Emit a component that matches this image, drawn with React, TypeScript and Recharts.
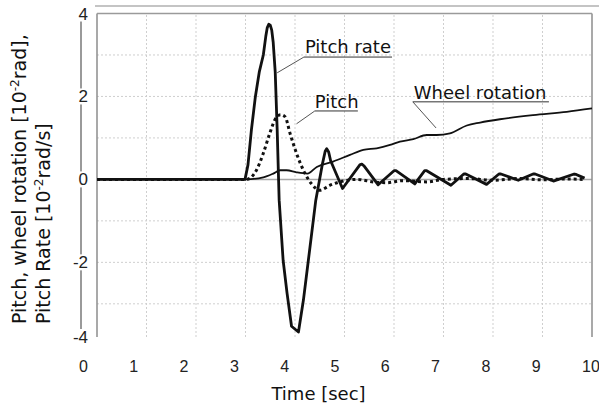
import React from 'react';
import { LineChart, Line, XAxis, YAxis, ReferenceLine, ReferenceDot, Label } from 'recharts';

// ---- data ----
const pitchRateTime = [0, 2.99, 3.05, 3.12, 3.2, 3.28, 3.36, 3.41, 3.44, 3.47, 3.5, 3.53, 3.56, 3.6, 3.64, 3.68, 3.76, 3.84, 3.93, 4.07, 4.17, 4.27, 4.42, 4.55, 4.61, 4.64, 4.68, 4.72, 4.96, 5.31, 5.35, 5.39, 5.68, 6.0, 6.04, 6.42, 6.62, 6.66, 7.15, 7.41, 7.45, 7.87, 8.12, 8.16, 8.51, 8.81, 8.85, 9.22, 9.64, 9.68, 9.85];
const pitchRateValue = [0, 0, 0.35, 1.2, 2.0, 2.6, 3.0, 3.45, 3.66, 3.74, 3.72, 3.6, 3.3, 2.6, 1.2, -0.5, -1.95, -2.75, -3.54, -3.68, -2.91, -1.95, -0.5, 0.35, 0.68, 0.74, 0.66, 0.45, -0.22, 0.35, 0.37, 0.33, -0.13, 0.21, 0.21, -0.11, 0.21, 0.21, -0.14, 0.13, 0.13, -0.12, 0.13, 0.13, -0.02, 0.13, 0.13, -0.04, 0.13, 0.12, 0.03];

const pitchTime = [0, 3.02, 3.22, 3.36, 3.49, 3.6, 3.71, 3.8, 3.9, 4.03, 4.17, 4.33, 4.5, 4.71, 4.91, 5.25, 5.58, 5.85, 6.19, 6.66, 7.0, 7.5, 8.0, 8.5, 9.0, 9.5, 9.82];
const pitchValue = [0, 0, 0.22, 0.63, 1.11, 1.45, 1.56, 1.51, 1.11, 0.63, 0.22, -0.1, -0.26, -0.14, -0.06, 0, -0.06, -0.08, -0.03, -0.06, 0, 0.02, -0.02, 0.02, -0.01, 0.01, 0];

const wheelTime = [0, 3.0, 3.36, 3.56, 3.7, 3.83, 4.03, 4.25, 4.44, 4.77, 5.11, 5.38, 5.65, 5.92, 6.12, 6.39, 6.66, 6.86, 7.13, 7.47, 7.74, 8.14, 8.81, 9.49, 10];
const wheelValue = [0, 0, 0.05, 0.14, 0.22, 0.22, 0.17, 0.14, 0.3, 0.43, 0.59, 0.71, 0.75, 0.83, 0.91, 0.97, 1.07, 1.07, 1.11, 1.3, 1.37, 1.45, 1.55, 1.63, 1.71];

const timeTicks = [0, 1, 2, 3, 4, 5, 6, 7, 8, 9, 10];
const xTickLabels = ['0', '1', '2', '3', '4', '5', '6', '7', '8', '9', '10'];
const yMajorValues = [4, 2, 0, -2, -3.8];
const yMajorLabels = ['4', '2', '0', '-2', '-4'];
const yMinorValues = [3, 1, -1, -3];
const yMinorLabels = ['0.03', '0.01', '-0.01', '-0.03'];
const gridTimes = [1, 2, 3, 4, 5, 6, 7, 8, 9];
const gridValues = [3, 2, 1, -1, -2, -3];

const annotationTexts = ['Pitch rate', 'Pitch', 'Wheel rotation'];
const annotationTextPos = [[4.2, 3.05], [4.4, 1.72], [6.4, 1.94]];
const annotationUnderline = [[4.18, 5.96, 2.95], [4.4, 5.27, 1.65], [6.38, 9.13, 1.87]];
const annotationLeaderEnd = [[3.64, 2.57], [4.03, 1.34], [6.85, 1.24]];

const toPoints = (ts: number[], vs: number[]) => ts.map((t, i) => ({ t, v: vs[i] }));
const pitchRateData = toPoints(pitchRateTime, pitchRateValue);
const pitchData = toPoints(pitchTime, pitchValue);
const wheelData = toPoints(wheelTime, wheelValue);

const SANS = 'DejaVu Sans, Verdana, sans-serif';
const ARIAL = 'Liberation Sans, Arial, sans-serif';
const MAIN = 'y2';
const MINOR = 'y1';

const MajorTick = (props: any) => {
  const { x, y, payload } = props;
  const label = yMajorLabels[yMajorValues.indexOf(payload.value)];
  const w = label.length * 9 + 4;
  return (
    <g>
      <rect x={x + 9 - w} y={y - 8} width={w} height={16} fill="#fff" />
      <text x={x + 7} y={y} dy={6} textAnchor="end" fontFamily={ARIAL} fontSize={17} fill="#222">{label}</text>
    </g>
  );
};

const MinorTick = (props: any) => {
  const { x, y, payload } = props;
  const label = yMinorLabels[yMinorValues.indexOf(payload.value)];
  return (
    <text x={x - 5} y={y} dy={2} textAnchor="end" fontFamily={ARIAL} fontSize={5} fill="#666">{label}</text>
  );
};

const XTick = (props: any) => {
  const { x, y, payload } = props;
  const label = xTickLabels[timeTicks.indexOf(payload.value)];
  return (
    <text x={x - 18 + 0.8 * payload.value} y={y + 35} textAnchor="start" fontFamily={ARIAL} fontSize={16} fill="#222">{label}</text>
  );
};

const YTitle = () => {
  const x1 = 26;
  const x2 = 50;
  const y0 = 324;
  return (
    <g fontFamily={SANS} fontSize={19} fill="#111">
      <text x={x1} y={y0} transform={`rotate(-90, ${x1}, ${y0})`} textAnchor="start">
        Pitch, wheel rotation [10<tspan dy={-7} fontSize={12}>-2</tspan><tspan dy={7}>rad],</tspan>
      </text>
      <text x={x2} y={y0} transform={`rotate(-90, ${x2}, ${y0})`} textAnchor="start">
        Pitch Rate [10<tspan dy={-7} fontSize={12}>-2</tspan><tspan dy={7}>rad/s]</tspan>
      </text>
    </g>
  );
};

const XTitle = (props: any) => {
  const vb = props.viewBox || { x: 97, y: 337, width: 495 };
  return (
    <text x={vb.x + vb.width / 2 - 26} y={vb.y + 63} textAnchor="middle" fontFamily={SANS} fontSize={18} fill="#111">Time [sec]</text>
  );
};

export default function App() {
  return (
    <div style={{ position: 'absolute', left: 0, top: 0, width: 599, height: 408, background: '#fff' }}>
      <div style={{ position: 'absolute', left: 95, top: 5, width: 504, height: 2, background: '#c4c4c4' }} />
      <LineChart width={599} height={408} margin={{ top: 13.5, right: 7, left: 0, bottom: 0 }}>
        <XAxis
          dataKey="t"
          type="number"
          domain={[0, 10]}
          ticks={timeTicks}
          interval={0}
          axisLine={false}
          tickLine={false}
          tickSize={0}
          tickMargin={0}
          height={71}
          tick={<XTick />}
          label={<Label content={<XTitle />} />}
        />
        <YAxis
          yAxisId={MINOR}
          type="number"
          domain={[-3.8, 4]}
          ticks={yMinorValues}
          interval={0}
          width={16}
          axisLine={false}
          tickLine={false}
          tickSize={0}
          tickMargin={0}
          tick={<MinorTick />}
        />
        <YAxis
          yAxisId={MAIN}
          type="number"
          domain={[-3.8, 4]}
          ticks={yMajorValues}
          interval={0}
          width={81}
          axisLine={{ stroke: '#9a9a9a', strokeWidth: 2 }}
          tickLine={false}
          tickSize={0}
          tickMargin={0}
          tick={<MajorTick />}
          label={<Label content={<YTitle />} />}
        />
        {gridTimes.map((t) => (
          <ReferenceLine key={'gx' + t} yAxisId={MAIN} x={t} stroke="#cfcfcf" strokeDasharray="2 2" strokeWidth={1} />
        ))}
        {gridValues.map((v) => (
          <ReferenceLine key={'gy' + v} yAxisId={MAIN} y={v} stroke="#cfcfcf" strokeDasharray="2 2" strokeWidth={1} />
        ))}
        <ReferenceLine yAxisId={MAIN} y={0} stroke="#a8a8a8" strokeWidth={1.5} />
        <ReferenceLine yAxisId={MAIN} x={0} stroke="#8c8c8c" strokeWidth={1.5} />
        <ReferenceLine yAxisId={MAIN} x={10} stroke="#8c8c8c" strokeWidth={1.5} />
        <ReferenceLine yAxisId={MAIN} y={4} stroke="#9a9a9a" strokeWidth={1.5} />

        <Line yAxisId={MAIN} data={wheelData} dataKey="v" type="monotone" stroke="#111" strokeWidth={1.8} dot={false} isAnimationActive={false} />
        <Line yAxisId={MAIN} data={pitchData} dataKey="v" type="monotone" stroke="#111" strokeWidth={3} strokeDasharray="3 3" dot={false} isAnimationActive={false} />
        <Line yAxisId={MAIN} data={pitchRateData} dataKey="v" type="linear" stroke="#111" strokeWidth={2.8} strokeLinejoin="round" dot={false} isAnimationActive={false} />

        {annotationTexts.map((txt, i) => (
          <ReferenceLine
            key={'ul' + i}
            yAxisId={MAIN}
            segment={[
              { x: annotationUnderline[i][0], y: annotationUnderline[i][2] },
              { x: annotationUnderline[i][1], y: annotationUnderline[i][2] },
            ]}
            stroke="#333"
            strokeWidth={1}
          />
        ))}
        {annotationTexts.map((txt, i) => (
          <ReferenceLine
            key={'ld' + i}
            yAxisId={MAIN}
            segment={[
              { x: annotationUnderline[i][0], y: annotationUnderline[i][2] },
              { x: annotationLeaderEnd[i][0], y: annotationLeaderEnd[i][1] },
            ]}
            stroke="#555"
            strokeWidth={1}
          />
        ))}
        {annotationTexts.map((txt, i) => (
          <ReferenceDot
            key={'tx' + i}
            yAxisId={MAIN}
            x={annotationTextPos[i][0]}
            y={annotationTextPos[i][1]}
            r={0}
            shape={(p: any) => (
              <text x={p.cx} y={p.cy} textAnchor="start" fontFamily={SANS} fontSize={18} fill="#111">{txt}</text>
            )}
          />
        ))}
      </LineChart>
    </div>
  );
}
